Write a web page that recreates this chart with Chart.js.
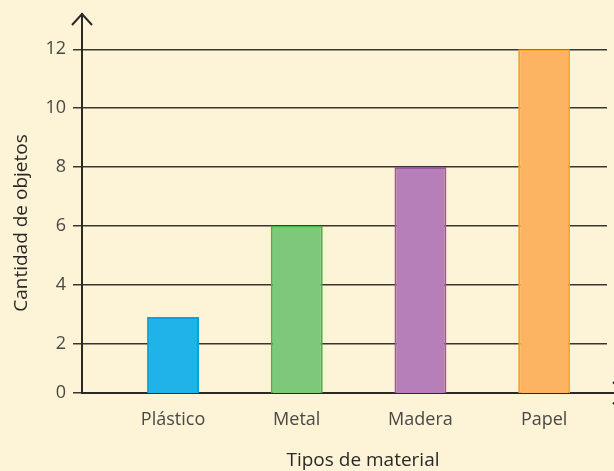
<!DOCTYPE html>
<html>
<head>
<meta charset="utf-8">
<script src="https://cdn.jsdelivr.net/npm/chart.js@4"></script>
<style>
    html, body { margin: 0; padding: 0; background: #fdf3d7; }
    #wrap { width: 614px; height: 471px; position: relative; }
</style>
</head>
<body>
<div id="wrap"><canvas id="grafico"></canvas></div>
<script>
// Datos del gráfico
const materiales = ['Plástico', 'Metal', 'Madera', 'Papel'];
const cantidades = [2.9, 6, 8, 12];
const marcas_y = [0, 2, 4, 6, 8, 10, 12];
const titulo_x = 'Tipos de material';
const titulo_y = 'Cantidad de objetos';
const colores = ['#1fb3e9', '#7dc87b', '#b67fba', '#fdb462'];
const bordes = ['#0aa1de', '#41b649', '#9d55a5', '#f7a12b'];

// el eje vertical del original está comprimido entre 0 y 2
const base_y = 0.32;

// -----------------------------
// Flechas en los extremos de los ejes y títulos
// -----------------------------
const flechas = {
    id: 'flechas',
    afterDraw(chart) {
        const { ctx, chartArea } = chart;
        ctx.save();
        ctx.strokeStyle = '#2b2825';
        ctx.lineWidth = 2;
        ctx.beginPath();
        // flecha eje y
        ctx.moveTo(chartArea.left - 10, chartArea.top + 11);
        ctx.lineTo(chartArea.left, chartArea.top);
        ctx.lineTo(chartArea.left + 10, chartArea.top + 11);
        // prolongar eje x y su flecha (cortada por el borde)
        ctx.moveTo(chartArea.right, chartArea.bottom);
        ctx.lineTo(630, chartArea.bottom);
        ctx.moveTo(613, chartArea.bottom - 11);
        ctx.lineTo(624, chartArea.bottom);
        ctx.lineTo(613, chartArea.bottom + 11);
        ctx.stroke();

        // títulos de los ejes
        ctx.fillStyle = '#2a2826';
        ctx.font = '19px "Open Sans"';
        ctx.textAlign = 'center';
        ctx.textBaseline = 'middle';
        ctx.fillText(titulo_x, 363, 461);
        ctx.translate(22, 223);
        ctx.rotate(-Math.PI / 2);
        ctx.fillText(titulo_y, 0, 0);
        ctx.restore();
    }
};

new Chart(document.getElementById('grafico'), {
    type: 'bar',
    data: {
        datasets: [{
            data: cantidades.map((v, i) => ({ x: i + 1, y: v })),
            backgroundColor: colores,
            borderColor: bordes,
            borderWidth: 2,
            borderSkipped: 'bottom',
            barPercentage: 0.42,
            categoryPercentage: 1
        }]
    },
    options: {
        responsive: true,
        maintainAspectRatio: false,
        animation: false,
        layout: { padding: { top: 14, right: 7, left: 0, bottom: 0 } },
        plugins: { legend: { display: false }, tooltip: { enabled: false } },
        scales: {
            x: {
                type: 'linear',
                offset: false,
                min: 0.264,
                max: 4.508,
                afterBuildTicks: scale => {
                    scale.ticks = materiales.map((m, i) => ({ value: i + 1 }));
                },
                afterFit: scale => { scale.height = 78; },
                grid: { display: false },
                border: { color: '#2b2825', width: 2 },
                ticks: {
                    callback: v => materiales[v - 1],
                    color: '#4a4845',
                    font: { family: 'Open Sans', size: 18 },
                    padding: 8
                }
            },
            y: {
                min: base_y,
                max: 13.2,
                afterBuildTicks: scale => {
                    scale.ticks = marcas_y.map(v => ({ value: v === 0 ? base_y : v }));
                },
                afterFit: scale => {
                    scale.width = 82;
                    scale.paddingTop = 0;
                    scale.paddingBottom = 0;
                },
                grid: {
                    color: '#3a3530',
                    lineWidth: 1.5,
                    tickLength: 9
                },
                border: { color: '#2b2825', width: 2 },
                ticks: {
                    callback: v => (v === base_y ? '0' : v),
                    color: '#4a4845',
                    font: { family: 'Open Sans', size: 18 },
                    padding: 7
                }
            }
        }
    },
    plugins: [flechas]
});
</script>
</body>
</html>
